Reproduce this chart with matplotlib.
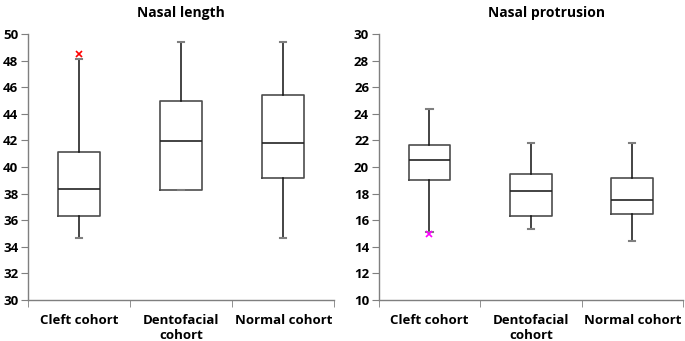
import matplotlib
matplotlib.use("Agg")
import matplotlib.pyplot as plt

plt.rcParams.update({
    "font.family": ["Open Sans", "DejaVu Sans"],
    "font.weight": "bold",
    "font.size": 9.5,
    "axes.linewidth": 1.0,
})

COHORTS = ["Cleft cohort", "Dentofacial\ncohort", "Normal cohort"]

# nasal length: whisker low, Q1, median, Q3, whisker high
LEN_LO = [34.7, 38.3, 34.7]
LEN_Q1 = [36.3, 38.3, 39.2]
LEN_MED = [38.35, 41.95, 41.8]
LEN_Q3 = [41.1, 45.0, 45.4]
LEN_HI = [48.1, 49.4, 49.4]
LEN_OUT = [[48.5], [], []]

# nasal protrusion
PRO_LO = [15.1, 15.35, 14.45]
PRO_Q1 = [19.05, 16.35, 16.5]
PRO_MED = [20.55, 18.2, 17.5]
PRO_Q3 = [21.65, 19.5, 19.2]
PRO_HI = [24.4, 21.8, 21.8]
PRO_OUT = [[14.95], [], []]

AX_COL = "#7f7f7f"
BOX_COL = "#4d4d4d"


def make_stats(lo, q1, med, q3, hi, out):
    return [dict(whislo=a, q1=b, med=c, q3=d, whishi=e, fliers=f)
            for a, b, c, d, e, f in zip(lo, q1, med, q3, hi, out)]


def draw(ax, stats, title, ylim, flier_col, title_x=0.5):
    ax.bxp(stats, positions=[1, 2, 3], widths=0.41, showfliers=True,
           boxprops=dict(color=BOX_COL, lw=1.2),
           medianprops=dict(color="#222222", lw=1.2),
           whiskerprops=dict(color="#111111", lw=1.1),
           capprops=dict(color=AX_COL, lw=1.5),
           capwidths=0.06,
           flierprops=dict(marker="x", markersize=4, markeredgecolor=flier_col,
                           markeredgewidth=1.2))
    ax.set_xlim(0.5, 3.5)
    ax.set_ylim(*ylim)
    ax.set_yticks(range(ylim[0], ylim[1] + 1, 2))
    ax.set_xticks([1, 2, 3])
    ax.set_xticklabels(COHORTS, linespacing=1.25, fontweight="bold")
    ax.set_xticks([0.5, 1.5, 2.5, 3.5], minor=True)
    ax.tick_params(axis="x", which="major", length=0, pad=10)
    ax.tick_params(axis="x", which="minor", length=5, color=AX_COL, direction="out")
    ax.tick_params(axis="y", length=5, color=AX_COL, direction="out", pad=2)
    for lab in ax.get_yticklabels():
        lab.set_fontweight("bold")
    for s in ("top", "right"):
        ax.spines[s].set_visible(False)
    for s in ("left", "bottom"):
        ax.spines[s].set_color(AX_COL)
    ax.set_title(title, fontsize=10, fontweight="bold", pad=12, x=title_x)


fig = plt.figure(figsize=(6.85, 3.41), dpi=100)
ax1 = fig.add_axes([0.041, 0.120, 0.447, 0.780])
ax2 = fig.add_axes([0.553, 0.120, 0.444, 0.780])

draw(ax1, make_stats(LEN_LO, LEN_Q1, LEN_MED, LEN_Q3, LEN_HI, LEN_OUT),
     "Nasal length", (30, 50), "#ff0000")
draw(ax2, make_stats(PRO_LO, PRO_Q1, PRO_MED, PRO_Q3, PRO_HI, PRO_OUT),
     "Nasal protrusion", (10, 30), "#ff00ff", title_x=0.55)

fig.savefig("out.png", dpi=100)
